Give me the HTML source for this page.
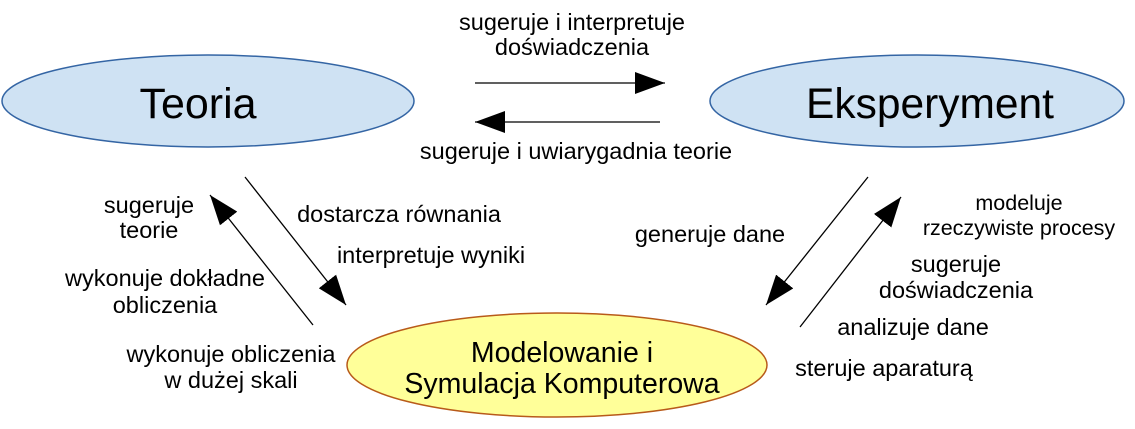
<!DOCTYPE html>
<html><head><meta charset="utf-8"><style>
html,body{margin:0;padding:0;background:#fff}
svg{display:block}
text{font-family:"Liberation Sans",sans-serif;fill:#000}
</style></head><body>
<svg width="1135" height="429" viewBox="0 0 1135 429" xmlns="http://www.w3.org/2000/svg">
<defs>
<marker id="ah" markerWidth="32" markerHeight="24" refX="30" refY="12" orient="auto" markerUnits="userSpaceOnUse">
<polygon points="0,1 30,12 0,23" fill="#000"/>
</marker>
</defs>
<ellipse cx="208" cy="101" rx="206" ry="46" fill="#cfe2f3" stroke="#3465a4" stroke-width="1.5"/>
<ellipse cx="917" cy="101" rx="207" ry="46" fill="#cfe2f3" stroke="#3465a4" stroke-width="1.5"/>
<ellipse cx="557" cy="365" rx="210" ry="52" fill="#ffff99" stroke="#b85a1a" stroke-width="1.5"/>
<text x="198" y="118" font-size="43" text-anchor="middle">Teoria</text>
<text x="930" y="118" font-size="42.5" text-anchor="middle">Eksperyment</text>
<text x="562" y="362" font-size="28.5" text-anchor="middle">Modelowanie i</text>
<text x="562" y="393" font-size="28.5" text-anchor="middle">Symulacja Komputerowa</text>
<g stroke="#000" stroke-width="1.3" fill="none">
<line x1="475" y1="83" x2="665" y2="83" marker-end="url(#ah)"/>
<line x1="660" y1="122" x2="475" y2="122" marker-end="url(#ah)"/>
<line x1="245" y1="177" x2="346" y2="305" marker-end="url(#ah)"/>
<line x1="313" y1="325" x2="210" y2="195" marker-end="url(#ah)"/>
<line x1="868" y1="177" x2="766" y2="305" marker-end="url(#ah)"/>
<line x1="800" y1="327" x2="901" y2="197" marker-end="url(#ah)"/>
</g>
<g font-size="23.5">
<text x="572" y="30" text-anchor="middle">sugeruje i interpretuje</text>
<text x="572" y="55" text-anchor="middle">doświadczenia</text>
<text x="576" y="159" text-anchor="middle">sugeruje i uwiarygadnia teorie</text>
<text x="149" y="213" text-anchor="middle">sugeruje</text>
<text x="149" y="238" text-anchor="middle">teorie</text>
<text x="399" y="222" text-anchor="middle">dostarcza  równania</text>
<text x="431" y="263" text-anchor="middle">interpretuje wyniki</text>
<text x="165" y="286" text-anchor="middle">wykonuje dokładne</text>
<text x="165" y="313" text-anchor="middle">obliczenia</text>
<text x="231" y="362" text-anchor="middle">wykonuje obliczenia</text>
<text x="231" y="388" text-anchor="middle">w dużej skali</text>
<text x="710" y="242" text-anchor="middle">generuje dane</text>
<text x="1019" y="210" text-anchor="middle" font-size="21.5">modeluje</text>
<text x="1019" y="235" text-anchor="middle" font-size="21.5">rzeczywiste procesy</text>
<text x="956" y="272" text-anchor="middle">sugeruje</text>
<text x="956" y="298" text-anchor="middle">doświadczenia</text>
<text x="913" y="335" text-anchor="middle">analizuje  dane</text>
<text x="884" y="376" text-anchor="middle">steruje aparaturą</text>
</g>
</svg>
</body></html>
